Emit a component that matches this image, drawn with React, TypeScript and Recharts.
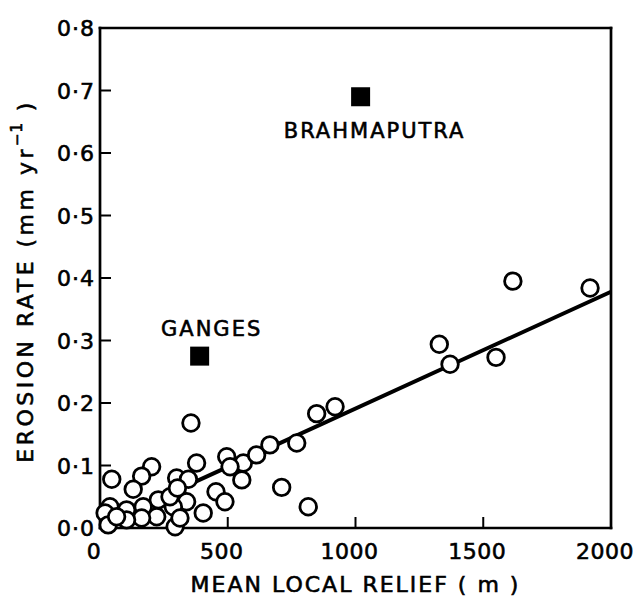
import React from 'react';
import { ComposedChart, Scatter, Line, XAxis, YAxis } from 'recharts';

// ---- data ----
const reliefTicks = [0, 500, 1000, 1500, 2000];
const rateTicks = [0, 0.1, 0.2, 0.3, 0.4, 0.5, 0.6, 0.7, 0.8];

const basinRelief = [
  46, 356, 202, 163, 130, 378, 300, 346, 496, 561, 613, 665, 770, 848, 920,
  555, 509, 454, 489, 404, 711, 815, 339, 287, 294, 313, 228, 222, 169, 163,
  104, 104, 39, 20, 32, 65, 274, 303, 1328, 1370, 1550, 1616, 1918,
];
const basinErosion = [
  0.078, 0.168, 0.098, 0.083, 0.062, 0.104, 0.08, 0.078, 0.114, 0.104, 0.117, 0.133, 0.136, 0.183, 0.194,
  0.077, 0.098, 0.058, 0.042, 0.024, 0.065, 0.034, 0.042, 0.034, 0.002, 0.016, 0.045, 0.018, 0.034, 0.016,
  0.029, 0.013, 0.034, 0.024, 0.005, 0.018, 0.05, 0.064, 0.294, 0.262, 0.273, 0.395, 0.384,
];

const riverNames = ['GANGES', 'BRAHMAPUTRA'];
const riverRelief = [390, 1020];
const riverErosion = [0.275, 0.69];

const fitRelief = [250, 2000];
const fitErosion = [0.051, 0.378];

// ---- tables built from the arrays ----
const basins = basinRelief.map((x, i) => ({ x, y: basinErosion[i] }));
const rivers = riverNames.map((name, i) => ({ name, x: riverRelief[i], y: riverErosion[i] }));
const fit = fitRelief.map((x, i) => ({ x, y: fitErosion[i] }));

// ---- styles ----
const FONT = '"DejaVu Sans", sans-serif';
const INK = '#000';
const TICK_LEN = 11;
const TXT_STROKE = 0.6;
const frame = { stroke: INK, strokeWidth: 2.7, strokeLinecap: 'square' as const };
const riverLabelOffset: Record<string, [number, number]> = {
  GANGES: [12, -28],
  BRAHMAPUTRA: [14, 33],
};

const fmtRate = (v: number) => v.toFixed(1).replace('.', '\u00B7');

const BottomTick = (p: any) => {
  const v = p.payload.value;
  const inner = v !== reliefTicks[0] && v !== reliefTicks[reliefTicks.length - 1];
  return (
    <g>
      {inner && <line x1={p.x} x2={p.x} y1={p.y} y2={p.y - TICK_LEN} stroke={INK} strokeWidth={2} />}
      <text
        x={p.x - 6}
        y={p.y + 31}
        textAnchor="middle"
        fontFamily={FONT}
        fontSize={22}
        letterSpacing={0.5}
        fill={INK}
        stroke={INK}
        strokeWidth={TXT_STROKE}
      >
        {v}
      </text>
    </g>
  );
};

const TopTick = (p: any) => {
  const v = p.payload.value;
  const inner = v !== reliefTicks[0] && v !== reliefTicks[reliefTicks.length - 1];
  return <g>{inner && <line x1={p.x} x2={p.x} y1={p.y} y2={p.y + TICK_LEN} stroke={INK} strokeWidth={2} />}</g>;
};

const LeftTick = (p: any) => {
  const v = p.payload.value;
  const inner = v !== rateTicks[0] && v !== rateTicks[rateTicks.length - 1];
  return (
    <g>
      {inner && <line x1={p.x} x2={p.x + TICK_LEN} y1={p.y} y2={p.y} stroke={INK} strokeWidth={2} />}
      <text
        x={p.x - 5}
        y={p.y + 8}
        textAnchor="end"
        fontFamily={FONT}
        fontSize={22}
        letterSpacing={1}
        fill={INK}
        stroke={INK}
        strokeWidth={TXT_STROKE}
      >
        {fmtRate(v)}
      </text>
    </g>
  );
};

const RightTick = (p: any) => {
  const v = p.payload.value;
  const inner = v !== rateTicks[0] && v !== rateTicks[rateTicks.length - 1];
  return <g>{inner && <line x1={p.x} x2={p.x - TICK_LEN} y1={p.y} y2={p.y} stroke={INK} strokeWidth={2} />}</g>;
};

const XTitle = (props: any) => {
  const vb = props.viewBox || { x: 100, y: 528, width: 511, height: 1 };
  return (
    <text
      x={vb.x + vb.width / 2}
      y={vb.y + 64}
      textAnchor="middle"
      fontFamily={FONT}
      fontSize={22}
      letterSpacing={2}
      fill={INK}
      stroke={INK}
      strokeWidth={TXT_STROKE}
    >
      MEAN LOCAL RELIEF ( m )
    </text>
  );
};

const YTitle = (props: any) => {
  const vb = props.viewBox || { x: 99, y: 28, width: 1, height: 500 };
  const cx = vb.x + vb.width - 75;
  const cy = vb.y + vb.height / 2 + 3;
  return (
    <text
      x={cx}
      y={cy}
      transform={`rotate(-90, ${cx}, ${cy})`}
      textAnchor="middle"
      dominantBaseline="central"
      fontFamily={FONT}
      fontSize={22}
      letterSpacing={3.5}
      fill={INK}
      stroke={INK}
      strokeWidth={TXT_STROKE}
    >
      EROSION RATE (mm yr
      <tspan dy={-8} fontSize={15} letterSpacing={1}>
        {'\u22121'}
      </tspan>
      <tspan dy={8}> )</tspan>
    </text>
  );
};

const Ring = (p: any) => (
  <circle cx={p.cx} cy={p.cy} r={8.3} fill="#fff" stroke={INK} strokeWidth={2.8} />
);

const RiverMark = (p: any) => {
  const name: string = p.payload?.name ?? '';
  const [dx, dy] = riverLabelOffset[name] || [0, -28];
  return (
    <g>
      <rect x={p.cx - 9.5} y={p.cy - 9.5} width={19} height={19} fill={INK} />
      <text
        x={p.cx + dx}
        y={p.cy + dy + 8}
        textAnchor="middle"
        fontFamily={FONT}
        fontSize={21}
        letterSpacing={2}
        fill={INK}
        stroke={INK}
        strokeWidth={TXT_STROKE}
      >
        {name}
      </text>
    </g>
  );
};

export default function App() {
  return (
    <div style={{ position: 'absolute', left: 0, top: 0, background: '#fff' }}>
      <ComposedChart width={635} height={600} margin={{ top: 27, right: 23, bottom: 71, left: 99 }}>
        <XAxis
          xAxisId="b"
          type="number"
          dataKey="x"
          domain={[0, 2000]}
          ticks={reliefTicks}
          interval={0}
          height={1}
          tickSize={0}
          tickMargin={0}
          tickLine={false}
          axisLine={frame}
          tick={BottomTick}
          label={{ content: XTitle }}
        />
        <XAxis
          xAxisId="t"
          orientation="top"
          type="number"
          dataKey="x"
          domain={[0, 2000]}
          ticks={reliefTicks}
          interval={0}
          height={1}
          tickSize={0}
          tickMargin={0}
          tickLine={false}
          axisLine={frame}
          tick={TopTick}
        />
        <YAxis
          yAxisId="l"
          type="number"
          domain={[0, 0.8]}
          ticks={rateTicks}
          interval={0}
          width={1}
          tickSize={0}
          tickMargin={0}
          tickLine={false}
          axisLine={frame}
          tick={LeftTick}
          label={{ content: YTitle }}
        />
        <YAxis
          yAxisId="r"
          orientation="right"
          type="number"
          domain={[0, 0.8]}
          ticks={rateTicks}
          interval={0}
          width={1}
          tickSize={0}
          tickMargin={0}
          tickLine={false}
          axisLine={frame}
          tick={RightTick}
        />
        <Line
          xAxisId="b"
          yAxisId="l"
          data={fit}
          dataKey="y"
          type="linear"
          stroke={INK}
          strokeWidth={4}
          dot={false}
          activeDot={false}
          isAnimationActive={false}
        />
        <Scatter
          xAxisId="b"
          yAxisId="l"
          data={basins}
          dataKey="y"
          shape={Ring}
          isAnimationActive={false}
        />
        <Scatter
          xAxisId="b"
          yAxisId="l"
          data={rivers}
          dataKey="y"
          shape={RiverMark}
          isAnimationActive={false}
        />
      </ComposedChart>
    </div>
  );
}
